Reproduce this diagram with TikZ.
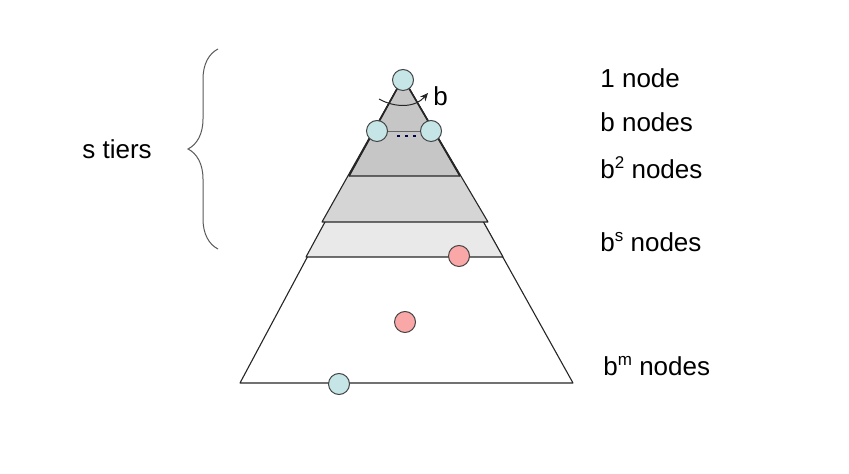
\documentclass[tikz,border=0pt]{standalone}
\usepackage{fontspec}
\setmainfont{Liberation Sans}
\usetikzlibrary{decorations.pathreplacing,arrows.meta}
\definecolor{nodeblue}{HTML}{C5E5E7}
\definecolor{nodepink}{HTML}{F9A7A7}
\definecolor{bandA}{HTML}{C6C6C6}
\definecolor{bandB}{HTML}{D5D5D5}
\definecolor{bandC}{HTML}{E9E9E9}
\definecolor{outl}{HTML}{444444}
\newcommand{\supx}[1]{\raisebox{0.42em}{\fontsize{8.5}{9}\selectfont #1}}
\begin{document}
\begin{tikzpicture}[x=0.5pt,y=-0.5pt,
  tri/.style={draw=black!85,line width=0.55pt,line join=round},
  dot/.style={circle,draw=outl,line width=0.5pt,minimum size=10.5pt,inner sep=0pt},
  bluedot/.style={dot,fill=nodeblue},
  pinkdot/.style={dot,fill=nodepink},
  lab/.style={anchor=base west,font=\fontsize{13}{15}\selectfont,inner sep=0pt}]
\useasboundingbox (0,0) rectangle (849,474);
% nested triangles
\coordinate (apex) at (403,78);
\filldraw[tri,fill=white] (apex) -- (240,383) -- (573,383) -- cycle;
\filldraw[tri,fill=bandC] (apex) -- (306,257) -- (503,257) -- cycle;
\filldraw[tri,fill=bandB] (apex) -- (322,222) -- (488,222) -- cycle;
\filldraw[tri,fill=bandA] (apex) -- (349,176) -- (460,176) -- cycle;
\draw[tri,line width=0.8pt] (apex) -- (349,176) (apex) -- (460,176);
% tier line between second-level nodes
\coordinate (ml) at (377,132);
\coordinate (mr) at (431,132);
\draw[black!60,line width=0.5pt] (ml) -- (mr);
\foreach \x in {397,405,413} \fill[blue!30!black] (\x,135) rectangle +(2.5,2.5);
% nodes
\node[bluedot] (top) at (403,80) {};
\node[bluedot] (l1) at (377,131) {};
\node[bluedot] (r1) at (431,131) {};
\node[pinkdot] (p1) at (459,256) {};
\node[pinkdot] (p2) at (405,322) {};
\node[bluedot] (goal) at (339,384) {};
% branching arc
\coordinate (as) at (379,99);
\coordinate (ae) at (428,93);
\draw[black!85,line width=0.5pt,-{Stealth[length=4pt,width=3.5pt]}] (as) .. controls (395,108) and (415,108) .. (ae);
\node[lab] (blab) at (433,106) {b};
% right labels
\node[lab] (t1) at (600,88) {1 node};
\node[lab] (t2) at (600,132) {b nodes};
\node[lab] (t3) at (600,179) {b\supx{2} nodes};
\node[lab] (t4) at (600,252) {b\supx{s} nodes};
\node[lab] (t5) at (603,376) {b\supx{m} nodes};
% brace
\coordinate (bb) at (218,249);
\coordinate (bt) at (218,49);
\draw[black!65,line width=0.5pt,decorate,decoration={brace,amplitude=15pt}] (bb) -- (bt);
\node[lab] (st) at (82,159) {s tiers};
\end{tikzpicture}
\end{document}
